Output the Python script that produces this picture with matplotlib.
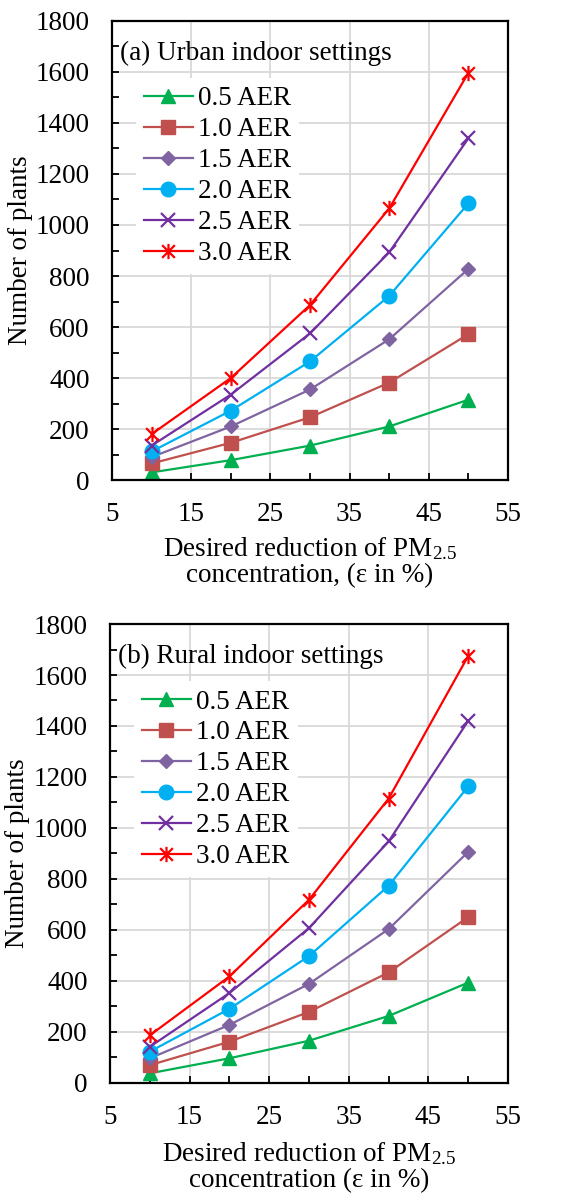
import matplotlib
matplotlib.use("Agg")
import matplotlib.pyplot as plt
from matplotlib.path import Path
from matplotlib.ticker import MultipleLocator

plt.rcParams['font.family'] = ['Liberation Serif', 'DejaVu Serif']
plt.rcParams['mathtext.fontset'] = 'custom'
plt.rcParams['mathtext.rm'] = 'Liberation Serif'
plt.rcParams['mathtext.default'] = 'regular'
plt.rcParams['font.size'] = 19.5

# data
eps = [10, 20, 30, 40, 50]
labels = ['0.5 AER', '1.0 AER', '1.5 AER', '2.0 AER', '2.5 AER', '3.0 AER']

urban = [
    [30, 78, 135, 210, 315],
    [65, 146, 246, 382, 572],
    [90, 210, 355, 552, 828],
    [112, 272, 465, 722, 1085],
    [135, 335, 575, 893, 1340],
    [180, 400, 686, 1065, 1597],
]
rural = [
    [37, 96, 165, 262, 393],
    [69, 161, 278, 433, 650],
    [96, 227, 388, 603, 906],
    [122, 290, 497, 773, 1163],
    [141, 352, 607, 947, 1420],
    [186, 417, 718, 1115, 1675],
]

colors = ['#00B050', '#C0504D', '#8064A2', '#00B0F0', '#7030A0', '#FF0000']

# excel style star: X with a vertical bar
star = Path([(-1, -1), (1, 1), (-1, 1), (1, -1), (0, -1.2), (0, 1.2)],
            [Path.MOVETO, Path.LINETO] * 3)
markers = ['^', 's', 'D', 'o', 'x', star]
msizes = [10, 9.5, 7.5, 10.5, 10, 11]

fig = plt.figure(figsize=(5.81, 11.98), dpi=100)
ax1 = fig.add_axes([0.1928, 0.5993, 0.6816, 0.3832])
ax2 = fig.add_axes([0.1893, 0.0962, 0.6851, 0.3829])


def draw(ax, data, title, xlab, ylx, xly):
    for vals, c, m, ms, lab in zip(data, colors, markers, msizes, labels):
        if m == 'x' or m is star:
            ax.plot(eps, vals, color=c, lw=1.6, marker=m, ms=ms, mec=c,
                    mfc='none', mew=1.6, label=lab)
        else:
            ax.plot(eps, vals, color=c, lw=1.6, marker=m, ms=ms, mec=c,
                    mfc=c, label=lab)
    ax.set_xlim(5, 55)
    ax.set_ylim(0, 1800)
    ax.set_xticks(range(5, 56, 10))
    ax.xaxis.set_minor_locator(MultipleLocator(5))
    ax.yaxis.set_major_locator(MultipleLocator(200))
    ax.yaxis.set_minor_locator(MultipleLocator(100))
    ax.grid(True, which='major', color='#D9D9D9', lw=1.3, zorder=0)
    ax.set_axisbelow(True)
    ax.tick_params(which='both', direction='in', length=5, width=1.3, pad=16)
    for s in ax.spines.values():
        s.set_linewidth(1.6)
    ax.text(0.02, 0.93, title, transform=ax.transAxes, va='center', ha='left')
    ax.legend(loc='upper left', bbox_to_anchor=(0.06, 0.875),
              frameon=True, fancybox=False, framealpha=1,
              edgecolor='none', handlelength=1.8, handletextpad=0.2,
              labelspacing=0.22, borderpad=0.3, borderaxespad=0)
    ax.set_xlabel(xlab, linespacing=1.05)
    ax.set_ylabel('Number of plants')
    ax.xaxis.set_label_coords(0.5, xly)
    ax.yaxis.set_label_coords(ylx, 0.5)


draw(ax1, urban, '(a) Urban indoor settings',
     'Desired reduction of PM$_{2.5}$\nconcentration, (\u03b5 in %)', -0.2, -0.12)
draw(ax2, rural, '(b) Rural indoor settings',
     'Desired reduction of PM$_{2.5}$\nconcentration (\u03b5 in %)', -0.2, -0.125)

fig.savefig('out.png', dpi=100)
